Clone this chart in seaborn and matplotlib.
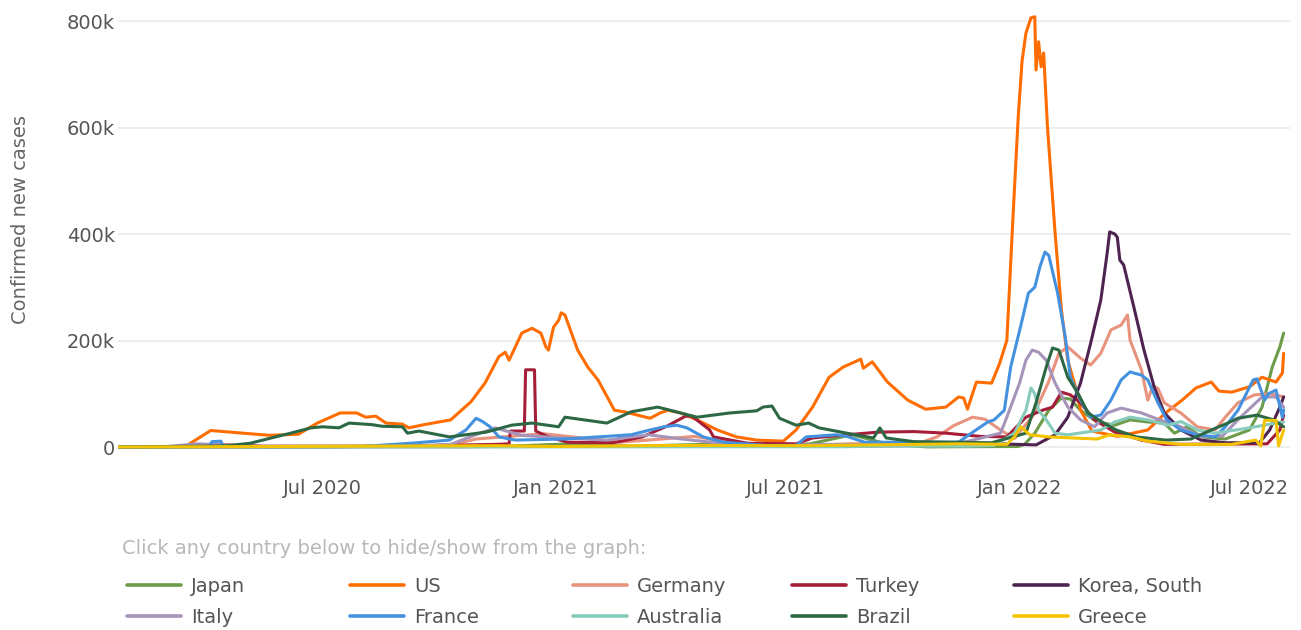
import pandas as pd
import seaborn as sns
import matplotlib.pyplot as plt
import matplotlib.dates as mdates
from matplotlib.lines import Line2D
from matplotlib.ticker import FuncFormatter

# 7-day average of confirmed new cases (thousands)
japan = [("2020-01-22", 0), ("2020-03-25", 0.1), ("2020-04-12", 0.6), ("2020-05-20", 0.1),
         ("2020-07-01", 0.2), ("2020-08-07", 1.3), ("2020-10-20", 0.6), ("2020-12-01", 2.2),
         ("2021-01-12", 6), ("2021-03-01", 1.2), ("2021-05-12", 6), ("2021-06-25", 1.6),
         ("2021-07-20", 6), ("2021-08-22", 23), ("2021-09-20", 5), ("2021-10-20", 0.3),
         ("2021-12-31", 1), ("2022-01-05", 5), ("2022-01-13", 26), ("2022-01-24", 69),
         ("2022-02-03", 92), ("2022-02-10", 90), ("2022-02-18", 69), ("2022-03-03", 47),
         ("2022-03-17", 41), ("2022-03-29", 51), ("2022-04-12", 47), ("2022-04-25", 45),
         ("2022-05-03", 26), ("2022-05-13", 38), ("2022-05-24", 19), ("2022-06-12", 15),
         ("2022-07-01", 32), ("2022-07-11", 75), ("2022-07-19", 150), ("2022-07-25", 188),
         ("2022-07-28", 214)]

us = [("2020-01-22", 0), ("2020-03-15", 1), ("2020-04-04", 31), ("2020-05-20", 22),
      ("2020-06-12", 24), ("2020-06-27", 45), ("2020-07-15", 64), ("2020-07-28", 64),
      ("2020-08-04", 56), ("2020-08-12", 58), ("2020-08-20", 45), ("2020-09-02", 43),
      ("2020-09-07", 36), ("2020-09-19", 42), ("2020-10-10", 51), ("2020-10-26", 85),
      ("2020-11-06", 120), ("2020-11-17", 170), ("2020-11-22", 178), ("2020-11-25", 163),
      ("2020-12-05", 214), ("2020-12-13", 223), ("2020-12-20", 214), ("2020-12-24", 188),
      ("2020-12-26", 182), ("2020-12-30", 225), ("2021-01-03", 238), ("2021-01-05", 252),
      ("2021-01-08", 248), ("2021-01-18", 182), ("2021-01-26", 150), ("2021-02-03", 126),
      ("2021-02-16", 69), ("2021-02-24", 66), ("2021-03-06", 60), ("2021-03-16", 54),
      ("2021-03-24", 64), ("2021-03-30", 69), ("2021-04-09", 64), ("2021-04-22", 51),
      ("2021-05-08", 32), ("2021-05-23", 19), ("2021-06-08", 13), ("2021-06-29", 11),
      ("2021-07-09", 32), ("2021-07-22", 75), ("2021-08-04", 131), ("2021-08-15", 150),
      ("2021-08-29", 165), ("2021-08-31", 148), ("2021-09-07", 160), ("2021-09-19", 122),
      ("2021-10-05", 88), ("2021-10-19", 71), ("2021-11-04", 75), ("2021-11-14", 94),
      ("2021-11-18", 92), ("2021-11-21", 71), ("2021-11-28", 122), ("2021-12-10", 120),
      ("2021-12-16", 155), ("2021-12-22", 200), ("2021-12-27", 439), ("2021-12-31", 622),
      ("2022-01-03", 725), ("2022-01-06", 777), ("2022-01-10", 806), ("2022-01-13", 808),
      ("2022-01-14", 708), ("2022-01-16", 761), ("2022-01-18", 714), ("2022-01-20", 740),
      ("2022-01-23", 601), ("2022-01-29", 402), ("2022-02-03", 257), ("2022-02-08", 163),
      ("2022-02-14", 113), ("2022-02-18", 70), ("2022-02-27", 30), ("2022-03-19", 20),
      ("2022-04-12", 32), ("2022-04-26", 64), ("2022-05-09", 88), ("2022-05-20", 111),
      ("2022-06-01", 122), ("2022-06-07", 105), ("2022-06-17", 103), ("2022-07-01", 113),
      ("2022-07-11", 131), ("2022-07-22", 122), ("2022-07-27", 139), ("2022-07-28", 176)]

germany = [("2020-01-22", 0), ("2020-03-10", 1), ("2020-04-03", 5), ("2020-05-15", 1),
           ("2020-09-01", 1), ("2020-10-10", 4), ("2020-10-30", 15), ("2020-11-20", 19),
           ("2020-12-22", 25), ("2021-01-10", 20), ("2021-02-20", 9), ("2021-03-25", 15),
           ("2021-04-20", 20), ("2021-05-20", 8), ("2021-06-20", 1), ("2021-08-20", 6),
           ("2021-10-15", 8), ("2021-10-28", 19), ("2021-11-10", 40), ("2021-11-25", 56),
           ("2021-12-05", 52), ("2021-12-17", 32), ("2021-12-28", 16), ("2022-01-12", 60),
           ("2022-01-24", 123), ("2022-02-01", 176), ("2022-02-08", 188), ("2022-02-18", 167),
           ("2022-02-26", 154), ("2022-03-06", 176), ("2022-03-14", 220), ("2022-03-22", 229),
           ("2022-03-27", 248), ("2022-03-29", 201), ("2022-04-07", 145), ("2022-04-12", 88),
           ("2022-04-16", 115), ("2022-04-20", 110), ("2022-04-25", 83), ("2022-05-08", 64),
           ("2022-05-21", 38), ("2022-06-04", 32), ("2022-06-12", 56), ("2022-06-22", 83),
           ("2022-07-05", 98), ("2022-07-18", 100), ("2022-07-28", 94)]

turkey = [("2020-01-22", 0), ("2020-03-20", 1), ("2020-04-12", 4), ("2020-05-15", 1.5),
          ("2020-09-01", 1.5), ("2020-11-15", 5), ("2020-11-25", 6), ("2020-11-26", 30),
          ("2020-12-07", 30), ("2020-12-08", 145), ("2020-12-15", 145), ("2020-12-16", 30),
          ("2020-12-26", 19), ("2021-01-10", 9), ("2021-02-15", 8), ("2021-03-10", 19),
          ("2021-03-30", 40), ("2021-04-13", 58), ("2021-04-18", 58), ("2021-05-02", 32),
          ("2021-05-05", 19), ("2021-06-01", 7), ("2021-07-09", 6), ("2021-07-22", 17),
          ("2021-08-18", 23), ("2021-09-12", 28), ("2021-10-10", 29), ("2021-11-04", 26),
          ("2021-12-01", 20), ("2021-12-22", 19), ("2022-01-06", 56), ("2022-01-19", 69),
          ("2022-01-27", 75), ("2022-02-03", 103), ("2022-02-10", 98), ("2022-02-18", 83),
          ("2022-03-01", 51), ("2022-03-17", 28), ("2022-04-07", 13), ("2022-04-25", 5),
          ("2022-07-15", 6), ("2022-07-25", 32), ("2022-07-28", 60)]

korea = [("2020-01-22", 0), ("2021-01-01", 1), ("2021-07-15", 1.5), ("2021-10-01", 2.5),
         ("2021-12-15", 6), ("2022-01-14", 4), ("2022-01-29", 23), ("2022-02-08", 56),
         ("2022-02-18", 120), ("2022-02-26", 195), ("2022-03-06", 276), ("2022-03-11", 364),
         ("2022-03-13", 404), ("2022-03-17", 400), ("2022-03-19", 394), ("2022-03-21", 351),
         ("2022-03-24", 342), ("2022-04-01", 263), ("2022-04-09", 182), ("2022-04-17", 113),
         ("2022-04-25", 64), ("2022-05-08", 32), ("2022-05-24", 13), ("2022-06-12", 8),
         ("2022-07-09", 8), ("2022-07-17", 32), ("2022-07-25", 75), ("2022-07-28", 94)]

italy = [("2020-01-22", 0), ("2020-03-01", 1), ("2020-03-25", 6), ("2020-05-10", 1),
         ("2020-09-01", 1), ("2020-10-10", 5), ("2020-11-01", 25), ("2020-11-14", 36),
         ("2020-12-05", 22), ("2021-01-05", 17), ("2021-02-10", 13), ("2021-03-15", 23),
         ("2021-04-10", 15), ("2021-05-15", 6), ("2021-06-15", 1), ("2021-08-01", 5),
         ("2021-10-01", 3), ("2021-11-20", 10), ("2021-12-17", 26), ("2021-12-22", 56),
         ("2022-01-01", 120), ("2022-01-06", 163), ("2022-01-11", 182), ("2022-01-16", 178),
         ("2022-01-22", 163), ("2022-01-29", 120), ("2022-02-08", 75), ("2022-02-18", 51),
         ("2022-03-01", 38), ("2022-03-11", 64), ("2022-03-22", 73), ("2022-04-07", 64),
         ("2022-04-18", 54), ("2022-05-08", 38), ("2022-05-24", 19), ("2022-06-10", 21),
         ("2022-06-24", 56), ("2022-07-11", 94), ("2022-07-22", 94), ("2022-07-28", 75)]

france = [("2020-01-22", 0), ("2020-04-03", 1), ("2020-04-05", 10), ("2020-04-12", 11),
          ("2020-04-14", 1), ("2020-08-01", 1), ("2020-09-08", 7), ("2020-10-09", 13),
          ("2020-10-22", 32), ("2020-10-30", 54), ("2020-11-04", 48), ("2020-11-10", 38),
          ("2020-11-17", 19), ("2020-11-30", 13), ("2021-01-08", 15), ("2021-03-01", 23),
          ("2021-03-16", 32), ("2021-03-27", 38), ("2021-04-06", 41), ("2021-04-14", 36),
          ("2021-04-27", 19), ("2021-05-13", 9), ("2021-06-15", 3), ("2021-07-09", 3),
          ("2021-07-17", 19), ("2021-08-10", 23), ("2021-08-18", 20), ("2021-09-01", 9),
          ("2021-11-14", 9), ("2021-11-24", 26), ("2021-12-07", 47), ("2021-12-12", 51),
          ("2021-12-20", 69), ("2021-12-25", 150), ("2022-01-03", 238), ("2022-01-08", 289),
          ("2022-01-13", 300), ("2022-01-17", 338), ("2022-01-21", 366), ("2022-01-24", 360),
          ("2022-01-31", 289), ("2022-02-06", 207), ("2022-02-10", 131), ("2022-02-18", 88),
          ("2022-02-26", 56), ("2022-03-06", 60), ("2022-03-14", 88), ("2022-03-22", 126),
          ("2022-03-29", 141), ("2022-04-07", 135), ("2022-04-12", 126), ("2022-04-20", 83),
          ("2022-04-27", 51), ("2022-05-08", 32), ("2022-05-21", 23), ("2022-06-04", 19),
          ("2022-06-12", 38), ("2022-06-22", 69), ("2022-07-04", 126), ("2022-07-07", 128),
          ("2022-07-13", 88), ("2022-07-16", 100), ("2022-07-22", 107), ("2022-07-27", 56),
          ("2022-07-28", 70)]

australia = [("2020-01-22", 0), ("2021-08-15", 0.5), ("2021-09-20", 2), ("2021-11-20", 1.5),
             ("2021-12-12", 3), ("2021-12-28", 26), ("2022-01-06", 69), ("2022-01-10", 111),
             ("2022-01-13", 100), ("2022-01-16", 69), ("2022-01-22", 51), ("2022-01-29", 26),
             ("2022-02-08", 23), ("2022-03-06", 32), ("2022-03-17", 47), ("2022-03-29", 56),
             ("2022-04-12", 51), ("2022-04-28", 41), ("2022-05-08", 48), ("2022-05-21", 32),
             ("2022-06-04", 26), ("2022-07-01", 36), ("2022-07-22", 45), ("2022-07-28", 47)]

brazil = [("2020-01-22", 0), ("2020-04-15", 2), ("2020-05-05", 7), ("2020-05-25", 19),
          ("2020-06-06", 26), ("2020-06-22", 36), ("2020-07-01", 38), ("2020-07-14", 36),
          ("2020-07-22", 45), ("2020-08-09", 42), ("2020-08-17", 39), ("2020-09-02", 38),
          ("2020-09-06", 26), ("2020-09-15", 30), ("2020-10-09", 19), ("2020-11-07", 28),
          ("2020-11-27", 41), ("2020-12-13", 45), ("2021-01-03", 38), ("2021-01-08", 56),
          ("2021-02-10", 45), ("2021-03-01", 66), ("2021-03-22", 75), ("2021-04-01", 69),
          ("2021-04-22", 56), ("2021-05-18", 64), ("2021-06-08", 68), ("2021-06-13", 75),
          ("2021-06-20", 77), ("2021-06-26", 54), ("2021-07-09", 41), ("2021-07-19", 45),
          ("2021-07-27", 36), ("2021-08-18", 26), ("2021-09-08", 17), ("2021-09-13", 36),
          ("2021-09-18", 17), ("2021-10-10", 10), ("2021-12-10", 8), ("2022-01-06", 26),
          ("2022-01-14", 83), ("2022-01-22", 150), ("2022-01-27", 186), ("2022-02-01", 182),
          ("2022-02-08", 131), ("2022-02-16", 101), ("2022-02-24", 64), ("2022-03-07", 47),
          ("2022-03-18", 32), ("2022-04-03", 19), ("2022-04-26", 13), ("2022-05-16", 15),
          ("2022-06-04", 35), ("2022-06-14", 45), ("2022-06-22", 54), ("2022-07-07", 60),
          ("2022-07-20", 51), ("2022-07-28", 38)]

greece = [("2020-01-22", 0), ("2020-11-15", 2.5), ("2021-01-01", 1), ("2021-04-01", 3),
          ("2021-07-20", 2.5), ("2021-11-15", 6), ("2021-12-22", 5), ("2021-12-28", 19),
          ("2022-01-02", 38), ("2022-01-09", 23), ("2022-01-24", 19), ("2022-03-03", 15),
          ("2022-03-13", 23), ("2022-03-29", 19), ("2022-04-12", 11), ("2022-05-08", 5),
          ("2022-06-17", 5), ("2022-07-06", 13), ("2022-07-10", 2), ("2022-07-13", 50),
          ("2022-07-22", 50), ("2022-07-24", 2), ("2022-07-28", 32)]

countries = ["Japan", "US", "Germany", "Turkey", "Korea, South",
             "Italy", "France", "Australia", "Brazil", "Greece"]
series = [japan, us, germany, turkey, korea, italy, france, australia, brazil, greece]
colors = {"Japan": "#6c9b4a", "US": "#ff6d00", "Germany": "#e8937d", "Turkey": "#a51d38",
          "Korea, South": "#4e2350", "Italy": "#a694ba", "France": "#4491e0",
          "Australia": "#86cbbb", "Brazil": "#2c6844", "Greece": "#f4c300"}
xtick_dates = ["2020-07-01", "2021-01-01", "2021-07-01", "2022-01-01", "2022-07-01"]
yticks = [0, 200, 400, 600, 800]

frames = []
for name, pts in zip(countries, series):
    d = pd.DataFrame(pts, columns=["date", "cases"])
    d["country"] = name
    frames.append(d)
df = pd.concat(frames, ignore_index=True)
df["date"] = pd.to_datetime(df["date"])

sns.set_style("white")
plt.rcParams["font.family"] = ["DejaVu Sans"]

fig = plt.figure(figsize=(13.01, 6.3), dpi=100)
fig.subplots_adjust(left=118 / 1301, right=1290 / 1301, bottom=180 / 630, top=620 / 630)
ax = fig.add_subplot(111)

sns.lineplot(data=df, x="date", y="cases", hue="country", hue_order=countries,
             palette=colors, linewidth=2.2, estimator=None, legend=False, ax=ax)

ax.set_xlim(pd.Timestamp("2020-01-22"), pd.Timestamp("2022-08-02"))
ax.set_ylim(-5.6, 820.7)
ax.set_yticks(yticks)
ax.yaxis.set_major_formatter(FuncFormatter(lambda v, p: "0" if v == 0 else f"{int(v)}k"))
ax.set_xticks(pd.to_datetime(xtick_dates))
ax.xaxis.set_major_formatter(mdates.DateFormatter("%b %Y"))

ax.grid(axis="y", color="#ebebeb", linewidth=1.2)
ax.set_axisbelow(True)
sns.despine(ax=ax, left=True, bottom=True)
ax.tick_params(axis="x", length=15, width=1.2, color="#e4e4e4", pad=6,
               labelsize=14, labelcolor="#555555")
ax.tick_params(axis="y", length=0, pad=2, labelsize=14, labelcolor="#555555")

ax.set_xlabel("")
ax.set_ylabel("Confirmed new cases", fontsize=14, color="#666666")
ax.yaxis.set_label_coords(-0.075, 0.525)

fig.text(122 / 1301, 1 - 548 / 630, "Click any country below to hide/show from the graph:",
         fontsize=14, color="#b8b8b8", ha="left", va="center")

# legend: five columns of two rows, like the original page
col_x = [127, 350, 573, 792, 1014]
for i, x in enumerate(col_x):
    names = [countries[i], countries[i + 5]]
    handles = [Line2D([], [], color=colors[n], linewidth=2.6) for n in names]
    fig.legend(handles, names, loc="upper left", bbox_to_anchor=(x / 1301, 1 - 577 / 630),
               frameon=False, fontsize=14, labelcolor="#555555", handlelength=2.8,
               handletextpad=0.5, labelspacing=0.6, borderpad=0, borderaxespad=0)

fig.savefig("out.png", dpi=100)
